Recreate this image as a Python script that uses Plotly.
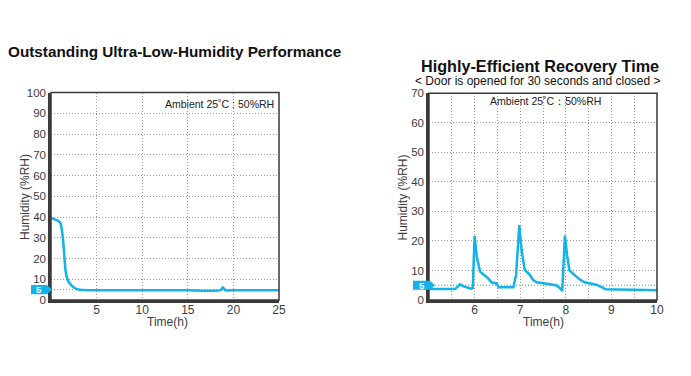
import plotly.graph_objects as go

# ---- data ----
time_low = [0, 0.3, 0.7, 1.0, 1.15, 1.3, 1.45, 1.6, 1.8, 2.0, 2.3, 2.6, 3.0, 3.5, 5, 10, 15, 18.6, 18.85, 19.1, 20, 25]
hum_low = [39.7, 39.0, 38.4, 37.5, 35.0, 30.0, 22.0, 14.0, 10.0, 8.3, 6.8, 5.8, 5.1, 4.8, 4.7, 4.7, 4.7, 4.7, 6.1, 4.7, 4.7, 4.7]

time_rec = [5.0, 5.57, 5.65, 5.68, 5.76, 5.84, 5.92, 5.96, 6.0, 6.05, 6.12, 6.21, 6.30, 6.37, 6.48, 6.53,
            6.85, 6.91, 6.98, 7.03, 7.10, 7.21, 7.28, 7.36, 7.57, 7.79, 7.90, 7.92, 7.95, 7.98,
            8.03, 8.08, 8.19, 8.30, 8.41, 8.67, 8.81, 8.87, 10.0]
hum_rec = [3.7, 3.7, 4.8, 5.3, 4.6, 4.2, 3.8, 4.0, 21.7, 14.5, 9.6, 8.5, 7.3, 6.0, 5.6, 4.3,
           4.3, 8.5, 25.4, 17.0, 10.2, 8.5, 6.8, 6.0, 5.4, 5.0, 3.6, 3.0, 12.0, 21.8,
           15.0, 10.0, 8.5, 7.0, 6.0, 5.2, 4.2, 3.6, 3.3]

target_level = 5
low_yticks = list(range(0, 101, 10))
low_xticks = [5, 10, 15, 20, 25]
rec_yticks = list(range(0, 71, 10))
rec_xticks = [5.5, 6, 6.5, 7, 7.5, 8, 8.5, 9, 9.5, 10]
rec_xlabels = ["", "6", "", "7", "", "8", "", "9", "", "10"]

titles = ["Outstanding Ultra-Low-Humidity Performance", "Highly-Efficient Recovery Time"]
subtitle = "< Door is opened for 30 seconds and closed >"
ambient = "Ambient 25\u02daC : 50%RH"
ambient2 = "Ambient 25\u02daC\uff1a50%RH"
x_title = "Time(h)"
y_title = "Humidity (%RH)"

CYAN = "#14b2ea"
FRAME = "#3a3a3a"
GRID = "#9a9a9a"
TXT = "#3c3c3c"
FONT = "Liberation Sans, Arial, sans-serif"

OFF = 8  # page body margin
W, H = 691 - OFF, 376 - OFF
def px_x(p):
    return (p - OFF) / W
def px_y(p):
    return 1 - (p - OFF) / H

fig = go.Figure()
fig.add_trace(go.Scatter(x=time_low, y=hum_low, mode="lines", line=dict(color=CYAN, width=2.5, shape="spline", smoothing=0.6),
                         xaxis="x", yaxis="y", showlegend=False, hoverinfo="skip"))
fig.add_trace(go.Scatter(x=time_rec, y=hum_rec, mode="lines", line=dict(color=CYAN, width=2.5),
                         xaxis="x2", yaxis="y2", showlegend=False, hoverinfo="skip"))
fig.add_trace(go.Scatter(x=[0, 25], y=[target_level] * 2, mode="lines", line=dict(color=CYAN, width=1, dash="1px,2px"),
                         xaxis="x", yaxis="y", showlegend=False, hoverinfo="skip"))
fig.add_trace(go.Scatter(x=[5, 10], y=[target_level] * 2, mode="lines", line=dict(color=CYAN, width=1, dash="1px,2px"),
                         xaxis="x2", yaxis="y2", showlegend=False, hoverinfo="skip"))

axis_common = dict(showline=True, linecolor=FRAME, linewidth=2.5, mirror=False, ticks="", automargin=False,
                   showgrid=True, gridcolor=GRID, griddash="1px,2px", gridwidth=1.2, zeroline=False)
xtick = dict(tickfont=dict(family=FONT, size=12, color=TXT), ticklabelstandoff=-3)
ytick = dict(tickfont=dict(family=FONT, size=11.5, color=TXT))

d1x = [px_x(51), px_x(279)]
d2x = [px_x(429), px_x(657)]
dy1 = [px_y(300), px_y(92.5)]
dy2 = [px_y(300), px_y(93.3)]

fig.update_layout(
    width=W, height=H, autosize=False, margin=dict(l=0, r=0, t=0, b=0, pad=0),
    paper_bgcolor="white", plot_bgcolor="white",
    xaxis=dict(domain=d1x, range=[0, 25], tickvals=low_xticks, anchor="y", **axis_common, **xtick),
    yaxis=dict(domain=dy1, range=[0, 100], tickvals=low_yticks, anchor="x", **axis_common, **ytick),
    xaxis2=dict(domain=d2x, range=[5, 10], tickvals=rec_xticks, ticktext=rec_xlabels, anchor="y2", **axis_common, **xtick),
    yaxis2=dict(domain=dy2, range=[0, 70], tickvals=rec_yticks, anchor="x2", **axis_common, **ytick),
    font=dict(family=FONT, color=TXT),
)

for xr, yr in [("x", "y"), ("x2", "y2")]:
    fig.add_shape(type="rect", xref=xr + " domain", yref=yr + " domain", x0=0, x1=1, y0=0, y1=1,
                  line=dict(color=FRAME, width=1.5), layer="above")

# axis titles
for (xc, yc) in [(167, 322), (543, 322)]:
    fig.add_annotation(text=x_title, xref="paper", yref="paper", x=px_x(xc), y=px_y(yc), showarrow=False,
                       font=dict(family=FONT, size=12, color=TXT), xanchor="center", yanchor="middle")
for (xc, yc) in [(24.5, 197.5), (402.5, 198)]:
    fig.add_annotation(text=y_title, xref="paper", yref="paper", x=px_x(xc), y=px_y(yc), showarrow=False, textangle=-90,
                       font=dict(family=FONT, size=12, color=TXT), xanchor="center", yanchor="middle")

fig.add_annotation(text="<b>" + titles[0] + "</b>", xref="paper", yref="paper", x=px_x(174), y=px_y(52),
                   showarrow=False, font=dict(family=FONT, size=15.3, color="#111111"), xanchor="center", yanchor="middle")
fig.add_annotation(text="<b>" + titles[1] + "</b>", xref="paper", yref="paper", x=px_x(540), y=px_y(66),
                   showarrow=False, font=dict(family=FONT, size=16.2, color="#111111"), xanchor="center", yanchor="middle")
fig.add_annotation(text=subtitle, xref="paper", yref="paper", x=px_x(538), y=px_y(81),
                   showarrow=False, font=dict(family=FONT, size=12, color="#111111"), xanchor="center", yanchor="middle")
fig.add_annotation(text=ambient, xref="paper", yref="paper", x=px_x(219), y=px_y(103.5),
                   showarrow=False, font=dict(family=FONT, size=10.5, color="#222222"), xanchor="center", yanchor="middle")
fig.add_annotation(text=ambient2, xref="paper", yref="paper", x=px_x(545), y=px_y(101),
                   showarrow=False, font=dict(family=FONT, size=10.5, color="#222222"), xanchor="center", yanchor="middle")

def tag(left_px, tip_px, yref, yax_range, dom):
    plot_h = (dom[1] - dom[0]) * H
    half = 4.6 * (yax_range[1] - yax_range[0]) / plot_h
    x0 = px_x(left_px); x1 = px_x(tip_px - 5); xt = px_x(tip_px)
    y = target_level
    path = f"M {x0},{y - half} L {x1},{y - half} L {xt},{y} L {x1},{y + half} L {x0},{y + half} Z"
    fig.add_shape(type="path", xref="paper", yref=yref, path=path, fillcolor=CYAN, line=dict(width=0), layer="above")
    fig.add_annotation(text="<b>%d</b>" % target_level, xref="paper", yref=yref, x=(x0 + x1) / 2, y=y, showarrow=False,
                       font=dict(family=FONT, size=9.5, color="white"), xanchor="center", yanchor="middle",
                       yshift=0, borderpad=0)

tag(31, 52, "y", [0, 100], dy1)
tag(413, 435, "y2", [0, 70], dy2)

fig.write_html("out.html")
